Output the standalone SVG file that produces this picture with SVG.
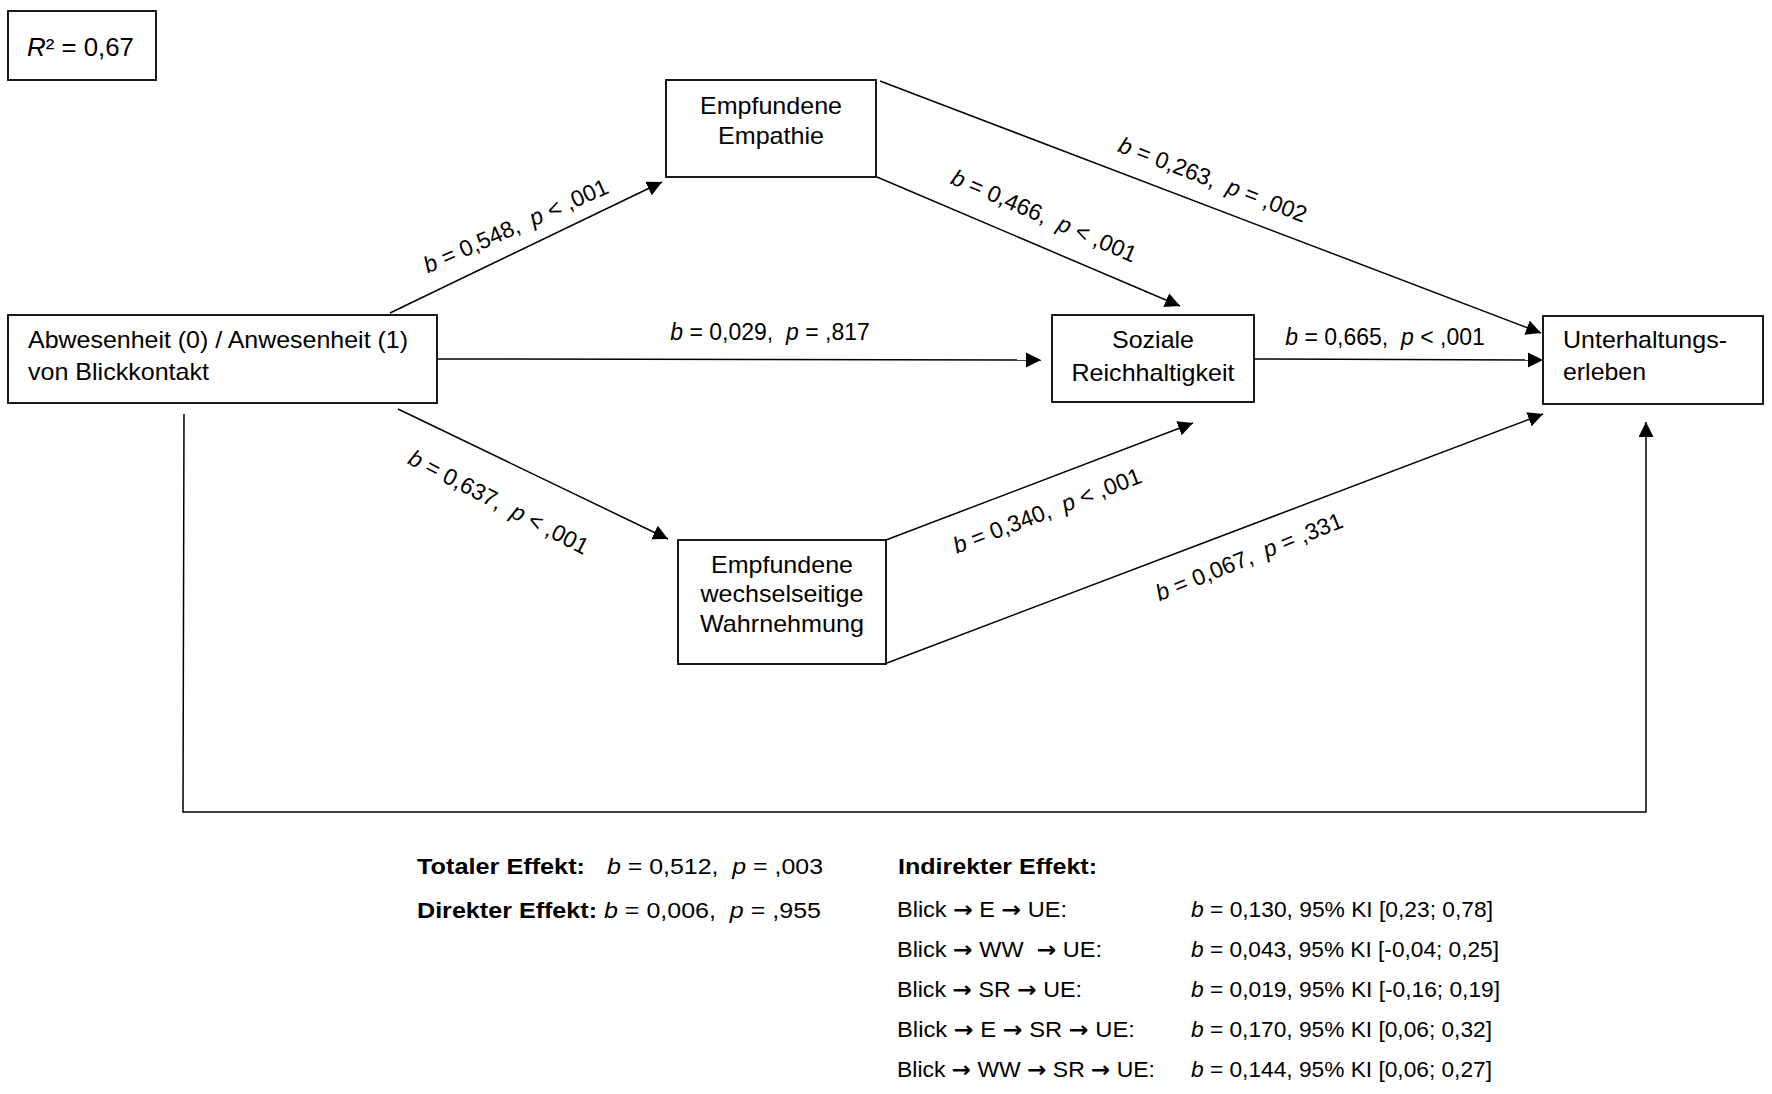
<svg xmlns="http://www.w3.org/2000/svg" width="1772" height="1094" viewBox="0 0 1772 1094">
<style>
  .box { fill: #fff; stroke: #000; stroke-width: 1.8; }
  .conn { fill: none; stroke: #000; stroke-width: 1.5; }
  text { font-family: "Liberation Sans", Arial, sans-serif; fill: #000; }
  .node { font-size: 24px; }
  .mid { text-anchor: middle; }
  .lbl { font-size: 23px; text-anchor: middle; }
  .eff { font-size: 22px; }
  .b { font-weight: bold; }
  .i { font-style: italic; }
  .ar { font-family: "DejaVu Sans", sans-serif; font-weight: bold; }
</style>
<defs>
  <marker id="ah" markerUnits="userSpaceOnUse" markerWidth="16" markerHeight="16" refX="15" refY="7.5" orient="auto">
    <path d="M0,0 L15,7.5 L0,15 z" fill="#000"/>
  </marker>
</defs>
<rect width="1772" height="1094" fill="#fff"/>

<g id="r2">
  <rect class="box" x="8" y="11" width="148" height="69"/>
  <text x="27" y="56" font-size="26px" textLength="107" lengthAdjust="spacingAndGlyphs" xml:space="preserve"><tspan class="i">R</tspan>² = 0,67</text>
</g>

<g id="connectors">
  <line class="conn" x1="390" y1="313" x2="662" y2="182" marker-end="url(#ah)"/>
  <line class="conn" x1="437" y1="359" x2="1041" y2="360" marker-end="url(#ah)"/>
  <line class="conn" x1="398" y1="409" x2="668" y2="539" marker-end="url(#ah)"/>
  <line class="conn" x1="877" y1="177" x2="1180" y2="306" marker-end="url(#ah)"/>
  <line class="conn" x1="880" y1="81" x2="1541" y2="333" marker-end="url(#ah)"/>
  <line class="conn" x1="1254" y1="359" x2="1543" y2="360" marker-end="url(#ah)"/>
  <line class="conn" x1="886" y1="540" x2="1193" y2="423" marker-end="url(#ah)"/>
  <line class="conn" x1="887" y1="663" x2="1543" y2="414" marker-end="url(#ah)"/>
  <polyline class="conn" points="184,414 183,812 1646,812 1646,422" marker-end="url(#ah)"/>
</g>

<g id="edge-labels">
  <text class="lbl" xml:space="preserve" transform="translate(519,233) rotate(-24)"><tspan class="i">b</tspan> = 0,548,  <tspan class="i">p</tspan> &lt; ,001</text>
  <text class="lbl" xml:space="preserve" x="770" y="340"><tspan class="i">b</tspan> = 0,029,  <tspan class="i">p</tspan> = ,817</text>
  <text class="lbl" xml:space="preserve" transform="translate(495,509) rotate(27.5)"><tspan class="i">b</tspan> = 0,637,  <tspan class="i">p</tspan> &lt; ,001</text>
  <text class="lbl" xml:space="preserve" transform="translate(1041,223) rotate(23.5)"><tspan class="i">b</tspan> = 0,466,  <tspan class="i">p</tspan> &lt; ,001</text>
  <text class="lbl" xml:space="preserve" transform="translate(1210,187) rotate(21)"><tspan class="i">b</tspan> = 0,263,  <tspan class="i">p</tspan> = ,002</text>
  <text class="lbl" xml:space="preserve" x="1385" y="345"><tspan class="i">b</tspan> = 0,665,  <tspan class="i">p</tspan> &lt; ,001</text>
  <text class="lbl" xml:space="preserve" transform="translate(1050,518) rotate(-21)"><tspan class="i">b</tspan> = 0,340,  <tspan class="i">p</tspan> &lt; ,001</text>
  <text class="lbl" xml:space="preserve" transform="translate(1252,564) rotate(-22)"><tspan class="i">b</tspan> = 0,067,  <tspan class="i">p</tspan> = ,331</text>
</g>

<g id="blickkontakt">
  <rect class="box" x="8" y="315" width="429" height="88"/>
  <text class="node" x="28" y="348" textLength="380" lengthAdjust="spacingAndGlyphs">Abwesenheit (0) / Anwesenheit (1)</text>
  <text class="node" x="28" y="380" textLength="181" lengthAdjust="spacingAndGlyphs">von Blickkontakt</text>
</g>

<g id="empathie">
  <rect class="box" x="666" y="80" width="210" height="97"/>
  <text class="node mid" x="771" y="114" textLength="142" lengthAdjust="spacingAndGlyphs">Empfundene</text>
  <text class="node mid" x="771" y="144" textLength="106" lengthAdjust="spacingAndGlyphs">Empathie</text>
</g>

<g id="soziale-reichhaltigkeit">
  <rect class="box" x="1052" y="315" width="202" height="87"/>
  <text class="node mid" x="1153" y="348" textLength="82" lengthAdjust="spacingAndGlyphs">Soziale</text>
  <text class="node mid" x="1153" y="381" textLength="163" lengthAdjust="spacingAndGlyphs">Reichhaltigkeit</text>
</g>

<g id="unterhaltungserleben">
  <rect class="box" x="1543" y="316" width="220" height="88"/>
  <text class="node" x="1563" y="348" textLength="164" lengthAdjust="spacingAndGlyphs">Unterhaltungs-</text>
  <text class="node" x="1563" y="380" textLength="83" lengthAdjust="spacingAndGlyphs">erleben</text>
</g>

<g id="wechselseitige-wahrnehmung">
  <rect class="box" x="678" y="540" width="208" height="124"/>
  <text class="node mid" x="782" y="573" textLength="142" lengthAdjust="spacingAndGlyphs">Empfundene</text>
  <text class="node mid" x="782" y="602" textLength="163" lengthAdjust="spacingAndGlyphs">wechselseitige</text>
  <text class="node mid" x="782" y="632" textLength="164" lengthAdjust="spacingAndGlyphs">Wahrnehmung</text>
</g>

<g id="effects">
  <text class="eff b" x="417" y="874" textLength="168" lengthAdjust="spacingAndGlyphs">Totaler Effekt:</text>
  <text class="eff" xml:space="preserve" x="607" y="874" textLength="216" lengthAdjust="spacingAndGlyphs"><tspan class="i">b</tspan> = 0,512,  <tspan class="i">p</tspan> = ,003</text>
  <text class="eff b" x="417" y="918" textLength="180" lengthAdjust="spacingAndGlyphs">Direkter Effekt:</text>
  <text class="eff" xml:space="preserve" x="604" y="918" textLength="217" lengthAdjust="spacingAndGlyphs"><tspan class="i">b</tspan> = 0,006,  <tspan class="i">p</tspan> = ,955</text>

  <text class="eff b" x="898" y="874" textLength="199" lengthAdjust="spacingAndGlyphs">Indirekter Effekt:</text>
  <text class="eff" xml:space="preserve" x="897" y="917" textLength="170" lengthAdjust="spacingAndGlyphs">Blick <tspan class="ar">→</tspan> E <tspan class="ar">→</tspan> UE:</text>
  <text class="eff" xml:space="preserve" x="897" y="957" textLength="205" lengthAdjust="spacingAndGlyphs">Blick <tspan class="ar">→</tspan> WW  <tspan class="ar">→</tspan> UE:</text>
  <text class="eff" xml:space="preserve" x="897" y="997" textLength="185" lengthAdjust="spacingAndGlyphs">Blick <tspan class="ar">→</tspan> SR <tspan class="ar">→</tspan> UE:</text>
  <text class="eff" xml:space="preserve" x="897" y="1037" textLength="238" lengthAdjust="spacingAndGlyphs">Blick <tspan class="ar">→</tspan> E <tspan class="ar">→</tspan> SR <tspan class="ar">→</tspan> UE:</text>
  <text class="eff" xml:space="preserve" x="897" y="1077" textLength="258" lengthAdjust="spacingAndGlyphs">Blick <tspan class="ar">→</tspan> WW <tspan class="ar">→</tspan> SR <tspan class="ar">→</tspan> UE:</text>

  <text class="eff" x="1191" y="917" textLength="302" lengthAdjust="spacingAndGlyphs"><tspan class="i">b</tspan> = 0,130, 95% KI [0,23; 0,78]</text>
  <text class="eff" x="1191" y="957" textLength="308" lengthAdjust="spacingAndGlyphs"><tspan class="i">b</tspan> = 0,043, 95% KI [-0,04; 0,25]</text>
  <text class="eff" x="1191" y="997" textLength="309" lengthAdjust="spacingAndGlyphs"><tspan class="i">b</tspan> = 0,019, 95% KI [-0,16; 0,19]</text>
  <text class="eff" x="1191" y="1037" textLength="301" lengthAdjust="spacingAndGlyphs"><tspan class="i">b</tspan> = 0,170, 95% KI [0,06; 0,32]</text>
  <text class="eff" x="1191" y="1077" textLength="301" lengthAdjust="spacingAndGlyphs"><tspan class="i">b</tspan> = 0,144, 95% KI [0,06; 0,27]</text>
</g>
</svg>
